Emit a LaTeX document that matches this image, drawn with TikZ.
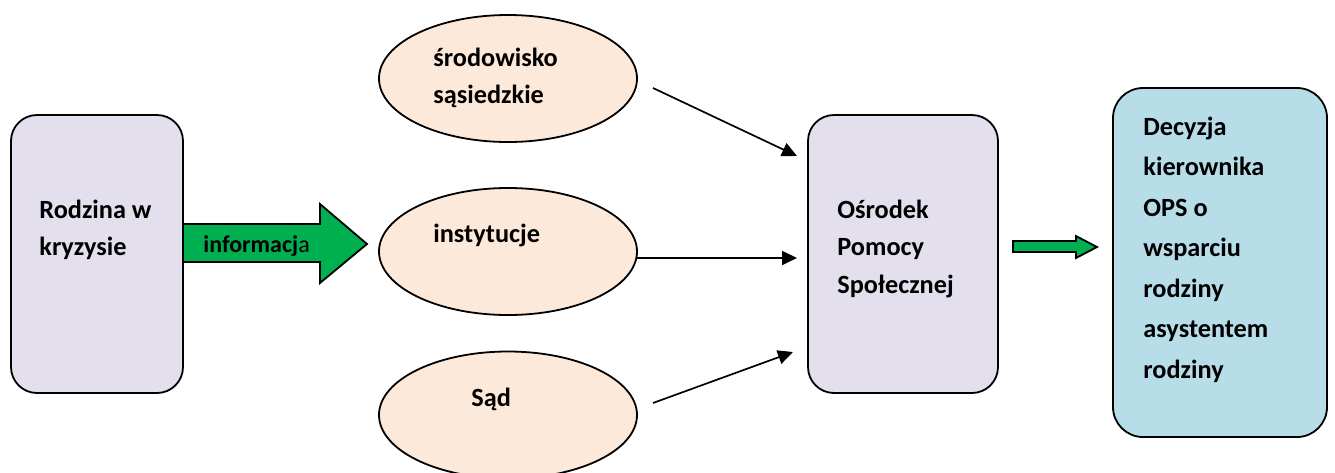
\documentclass[tikz,border=0pt]{standalone}
\usepackage{fontspec}
\setmainfont{Carlito}
\usetikzlibrary{shapes.geometric,arrows.meta}

\definecolor{boxlila}{HTML}{E4DFEC}
\definecolor{ovalpeach}{HTML}{FDE9D9}
\definecolor{decblue}{HTML}{B7DEE8}
\definecolor{arrgreen}{HTML}{00B050}

\tikzset{
  box/.style={draw, rounded corners=13pt, line width=0.9pt, minimum width=86pt, minimum height=139pt},
  oval/.style={draw, ellipse, fill=ovalpeach, line width=0.9pt, minimum width=129pt, minimum height=63.5pt},
  txt/.style={anchor=north west, inner sep=0pt, align=left, font=\fontsize{13.15}{18.75}\selectfont\bfseries},
  conn/.style={-{Triangle[length=7.5pt,width=7pt]}, line width=0.85pt},
  fat/.style={draw, fill=arrgreen, line width=0.9pt, line join=miter}
}

\begin{document}
\begin{tikzpicture}[x=0.5pt, y=-0.5pt]
\useasboundingbox (0,0) rectangle (1335,472);
% ramki
\node[box, fill=boxlila] (rodzina) at (97,254) {};
\node[box, fill=boxlila, minimum width=95pt] (ops) at (903,254) {};
\node[box, fill=decblue, rounded corners=15pt, minimum width=107pt, minimum height=174.5pt] (decyzja) at (1220,262.5) {};
% owale
\node[oval] (srodowisko) at (508,78.5) {};
\node[oval] (instytucje) at (508,251.5) {};
\node[oval] (sad) at (508,415) {};
% napisy
\node[txt] (trodzina) at (39,191.75) {\strut Rodzina w\\kryzysie};
\node[txt] (tops) at (837,191.75) {\strut Ośrodek\\Pomocy\\Społecznej};
\node[txt] (tsrod) at (433,39.75) {\strut środowisko\\sąsiedzkie};
\node[txt] (tinst) at (433,215.75) {\strut instytucje};
\node[txt] (tsad) at (471,379.75) {\strut Sąd};
\node[txt, font=\fontsize{13.15}{20.25}\selectfont\bfseries] (tdec) at (1143,106.65) {\strut Decyzja\\kierownika\\OPS o\\wsparciu\\rodziny\\asystentem\\rodziny};
% grube strzalki
\draw[fat] (183,224) -- (320,224) -- (320,204) -- (367,244) -- (320,283) -- (320,262) -- (183,262) -- cycle;
\node[txt, anchor=base west, font=\fontsize{12}{14}\selectfont] (tinfo) at (203,252) {\bfseries informacj\mdseries a};
\draw[fat] (1013,241) -- (1076,241) -- (1076,236) -- (1097,247) -- (1076,258) -- (1076,252) -- (1013,252) -- cycle;
% cienkie strzalki
\coordinate (s1) at (653,88);
\coordinate (e1) at (797,156);
\coordinate (s2) at (637,258);
\coordinate (e2) at (797,258);
\coordinate (s3) at (653,403);
\coordinate (e3) at (793,352);
\draw[conn] (s1) -- (e1);
\draw[conn] (s2) -- (e2);
\draw[conn] (s3) -- (e3);
\end{tikzpicture}
\end{document}
